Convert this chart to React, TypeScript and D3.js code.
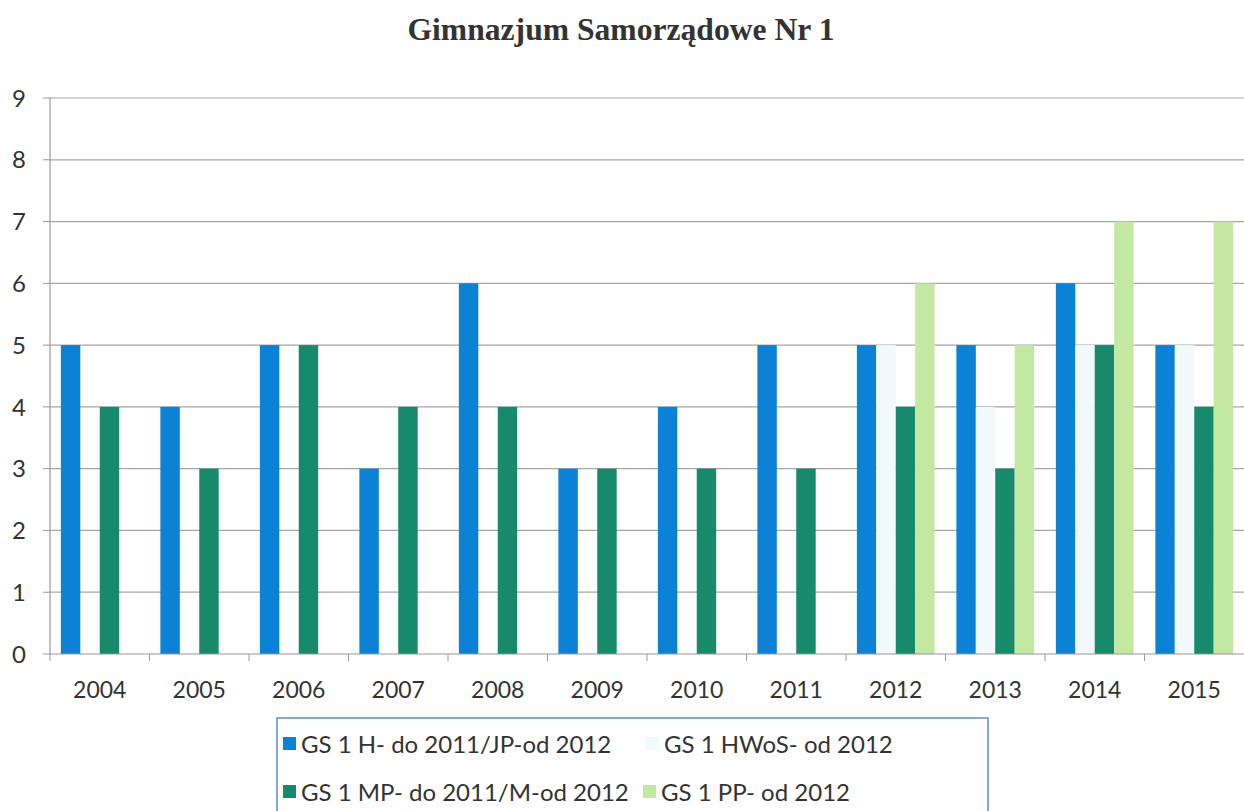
import React from "react";
import * as d3 from "d3";

const years = ["2004","2005","2006","2007","2008","2009","2010","2011","2012","2013","2014","2015"];
const seriesNames = ["GS 1 H- do 2011/JP-od 2012","GS 1 HWoS- od 2012","GS 1 MP- do 2011/M-od 2012","GS 1 PP- od 2012"];
const hValues = [5,4,5,3,6,3,4,5,5,5,6,5];
const hwosValues = [null,null,null,null,null,null,null,null,5,4,5,5];
const mpValues = [4,3,5,4,4,3,3,3,4,3,5,4];
const ppValues = [null,null,null,null,null,null,null,null,6,5,7,7];
const yTicks = [0,1,2,3,4,5,6,7,8,9];
const colors = ["#0B82D5","#F1F9FC","#168A6B","#C3E8A2"];
const title = "Gimnazjum Samorządowe Nr 1";

export default function App() {
  const W = 1244, H = 811;
  const left = 50, right = 1244, top = 98, bottom = 654;
  const allSeries = [hValues, hwosValues, mpValues, ppValues];
  const x = d3.scaleBand().domain(years).range([left, right]).padding(0);
  const xs = d3.scaleBand().domain(seriesNames).range([0, x.bandwidth()]).paddingInner(0).paddingOuter(0.56);
  const y = d3.scaleLinear().domain([0, 9]).range([bottom, top]);
  const font = "Lato, 'Open Sans', sans-serif";

  return (
    <svg width={W} height={H} style={{ position: "absolute", left: 0, top: 0, background: "#fff" }}>
      <rect x={0} y={0} width={W} height={H} fill="#fff" />
      <text x={621} y={40} textAnchor="middle" fontFamily="'Liberation Serif', 'Times New Roman', serif" fontWeight="bold" fontSize={31} fill="#333" textLength={427} lengthAdjust="spacingAndGlyphs">{title}</text>
      {yTicks.map(t => (
        <g key={t}>
          {t > 0 && <line x1={left} x2={right} y1={y(t)} y2={y(t)} stroke="#a6a6a6" strokeWidth={1.2} />}
          <line x1={43} x2={left} y1={y(t)} y2={y(t)} stroke="#999" strokeWidth={1} />
          <text x={26} y={y(t)} dy="0.36em" textAnchor="end" fontFamily={font} fontSize={24} fill="#333">{t}</text>
        </g>
      ))}
      {years.map((yr, i) => (
        <g key={yr}>
          {allSeries.map((s, j) => {
            const v = s[i];
            if (v == null) return null;
            return (
              <rect key={j} x={(x(yr) as number) + (xs(seriesNames[j]) as number)} y={y(v)} width={xs.bandwidth()} height={y(0) - y(v)} fill={colors[j]} />
            );
          })}
          <text x={(x(yr) as number) + x.bandwidth() / 2} y={698} textAnchor="middle" fontFamily={font} fontSize={23} fill="#333">{yr}</text>
        </g>
      ))}
      <line x1={left} x2={left} y1={top} y2={bottom} stroke="#999" strokeWidth={1.2} />
      <line x1={left} x2={right} y1={bottom} y2={bottom} stroke="#999" strokeWidth={1.2} />
      {years.map((yr) => (
        <line key={"t" + yr} x1={(x(yr) as number)} x2={(x(yr) as number)} y1={bottom} y2={bottom + 7} stroke="#999" strokeWidth={1} />
      ))}
      <rect x={277} y={718} width={711} height={110} fill="none" stroke="#5b8fc7" strokeWidth={1.5} />
      {seriesNames.map((n, j) => {
        const col = j % 2;
        const row = Math.floor(j / 2);
        const lx = col === 0 ? 283 : (row === 0 ? 646 : 643);
        const ly = row === 0 ? 744 : 792;
        return (
          <g key={n}>
            <rect x={lx} y={ly - 7} width={13} height={13} fill={colors[j]} />
            <text x={lx + 18} y={ly} dy="0.36em" fontFamily={font} fontSize={24} fill="#333">{n}</text>
          </g>
        );
      })}
    </svg>
  );
}
